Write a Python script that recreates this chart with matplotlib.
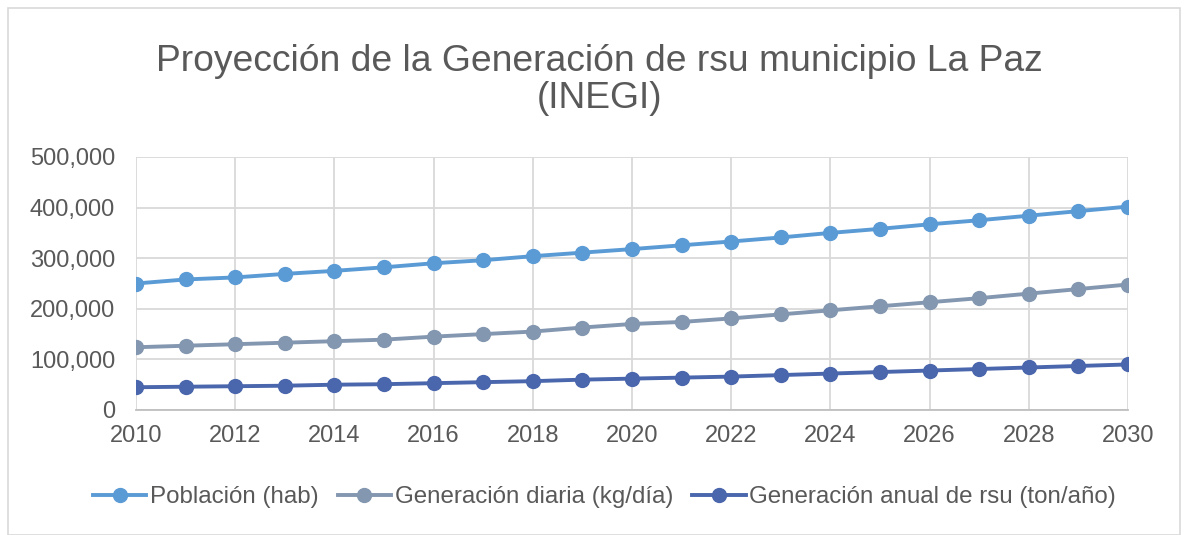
import matplotlib
matplotlib.use("Agg")
import matplotlib.pyplot as plt
from matplotlib.ticker import FuncFormatter, MultipleLocator
from matplotlib.patches import Rectangle

plt.rcParams['font.family'] = ['Liberation Sans', 'DejaVu Sans']

# data
years = list(range(2010, 2031))
poblacion = [250000, 258000, 262000, 269000, 275000, 282000, 290000, 296000, 304000, 311000,
             318000, 325500, 333000, 341000, 350000, 358000, 367000, 375000, 384000, 393000, 402000]
gen_diaria = [124000, 127000, 130000, 133000, 136000, 139000, 145000, 150000, 155000, 163000,
              170000, 174000, 181000, 189000, 197000, 205000, 213000, 221000, 230000, 239000, 248000]
gen_anual = [45000, 46000, 47000, 48000, 50000, 51000, 53000, 55000, 57000, 60000,
             62000, 64000, 66000, 69000, 72000, 75000, 78000, 81000, 84000, 87000, 90000]
labels = ['Población (hab)', 'Generación diaria (kg/día)', 'Generación anual de rsu (ton/año)']
colors = ['#5B9BD5', '#8497B0', '#4A66AC']

text_col = '#595959'

fig = plt.figure(figsize=(11.9, 5.35), dpi=100)
ax = fig.add_axes([136/1190, 1 - 410/535, (1128 - 136)/1190, (410 - 157)/535])

for vals, lab, c in zip([poblacion, gen_diaria, gen_anual], labels, colors):
    ax.plot(years, vals, color=c, lw=2.8, marker='o', ms=10, label=lab)

ax.set_xlim(2010, 2030)
ax.set_ylim(0, 500000)
ax.xaxis.set_major_locator(MultipleLocator(2))
ax.yaxis.set_major_locator(MultipleLocator(100000))
ax.yaxis.set_major_formatter(FuncFormatter(lambda v, p: f'{int(v):,}'))
ax.grid(True, color='#D9D9D9', lw=1.3)
ax.set_axisbelow(True)
for s in ['top', 'right', 'left']:
    ax.spines[s].set_visible(False)
ax.spines['bottom'].set_color('#BFBFBF')
ax.spines['bottom'].set_linewidth(1.3)
ax.tick_params(length=0, labelsize=17, labelcolor=text_col)
ax.tick_params(axis='y', pad=15)
ax.tick_params(axis='x', pad=11)

fig.text(0.504, 1 - 80/535, 'Proyección de la Generación de rsu municipio La Paz\n(INEGI)',
         ha='center', va='center', fontsize=26.8, color=text_col, linespacing=1.1)

leg = fig.legend(loc='center', bbox_to_anchor=(0.508, 1 - 497/535), ncol=3, frameon=False,
                 fontsize=17.4, handlelength=2.2, columnspacing=0.8, handletextpad=0.15)
for t in leg.get_texts():
    t.set_color(text_col)

fig.patches.append(Rectangle((8/1190, 0), 1172/1190, 1 - 8/535, transform=fig.transFigure,
                             fill=False, edgecolor='#D9D9D9', lw=1.2))

fig.savefig('out.png', dpi=100)
